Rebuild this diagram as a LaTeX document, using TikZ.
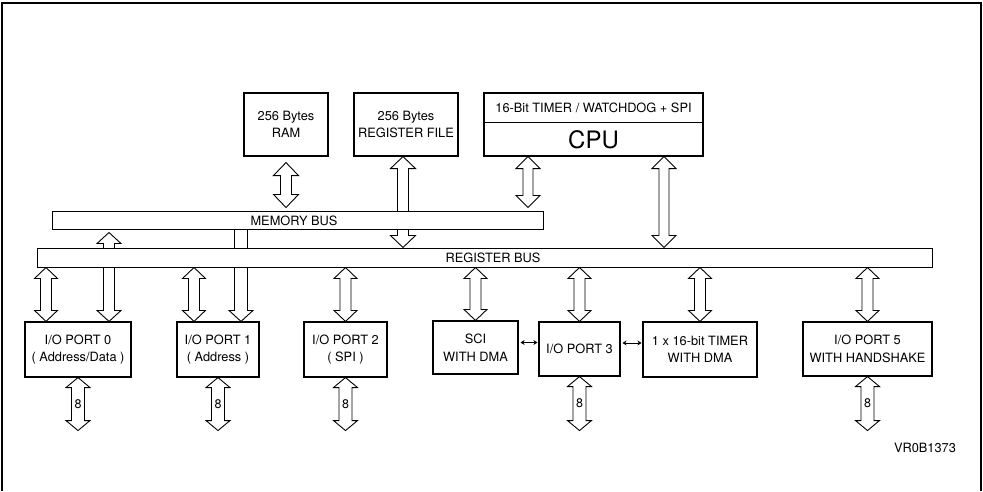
\documentclass[tikz,border=0pt]{standalone}
\usepackage{fontspec}
\setmainfont{TeX Gyre Heros}
\usetikzlibrary{arrows.meta,calc,backgrounds}
\newcommand\FatBoth[5]{% top, bottom, half shaft, half head, head length
  \draw[fat] let \p1=#1, \p2=#2 in
    (\x1,\y1) -- ({\x1+#4},{\y1-#5}) -- ({\x1+#3},{\y1-#5}) -- ({\x1+#3},{\y2+#5})
    -- ({\x1+#4},{\y2+#5}) -- (\x1,\y2) -- ({\x1-#4},{\y2+#5}) -- ({\x1-#3},{\y2+#5})
    -- ({\x1-#3},{\y1-#5}) -- ({\x1-#4},{\y1-#5}) -- cycle;}
\newcommand\FatDown[5]{% top, bottom, half shaft, half head, head length
  \draw[fat] let \p1=#1, \p2=#2 in
    ({\x1-#3},\y1) -- ({\x1+#3},\y1) -- ({\x1+#3},{\y2+#5}) -- ({\x1+#4},{\y2+#5})
    -- (\x1,\y2) -- ({\x1-#4},{\y2+#5}) -- ({\x1-#3},{\y2+#5}) -- cycle;}
\tikzset{
  box/.style={draw, line width=1.1pt, fill=white, inner sep=0pt, align=center,
    font=\fontsize{12.8}{17.5}\selectfont},
  bus/.style={draw, line width=1pt, fill=white, inner sep=0pt},
  txt/.style={inner sep=0pt, font=\fontsize{12.8}{15}\selectfont},
  eight/.style={inner sep=0.3pt, fill=white, font=\fontsize{12.5}{14}\selectfont},
  fat/.style={draw, line width=0.9pt, fill=white, line join=miter},
  smallarr/.style={line width=0.9pt, {Stealth[length=4pt,width=5pt]}-{Stealth[length=4pt,width=5pt]}}
}
\begin{document}
\begin{tikzpicture}[x=1pt,y=-1pt]
\useasboundingbox (0,0) rectangle (983,491);
% frame
\draw[line width=1.3pt] (2,491) -- (2,3) -- (981,3) -- (981,491);

% top blocks
\node[box, minimum width=84pt, minimum height=63pt] (ram) at (286,124.5) {256 Bytes\\RAM};
\node[box, minimum width=104pt, minimum height=63pt] (rf) at (406,124.5) {256 Bytes\\REGISTER FILE};
\node[box, minimum width=219pt, minimum height=63pt] (cpu) at (593.5,124.5) {};
\draw[line width=1pt] (cpu.west |- 0,122) -- (cpu.east |- 0,122);
\node[txt] (cputop) at (593.5,108) {16-Bit TIMER / WATCHDOG + SPI};
\node[inner sep=0pt, font=\fontsize{24}{28}\selectfont] (cpulbl) at (593.5,139.5) {CPU};

% buses
\node[bus, minimum width=491pt, minimum height=18pt] (mbus) at (297.5,220) {};
\node[txt] (mbuslbl) at (294,220.5) {MEMORY BUS};
\node[bus, minimum width=895pt, minimum height=19pt] (rbus) at (484.5,257.5) {};
\node[txt] (rbuslbl) at (493,258) {REGISTER BUS};

% bottom blocks
\node[box, minimum width=106pt, minimum height=55pt] (p0) at (78,349.5) {I/O PORT 0\\( Address/Data )};
\node[box, minimum width=82pt, minimum height=55pt] (p1) at (218,349.5) {I/O PORT 1\\( Address )};
\node[box, minimum width=83pt, minimum height=55pt] (p2) at (345.5,349.5) {I/O PORT 2\\( SPI )};
\node[box, minimum width=85pt, minimum height=53pt] (sci) at (475.5,347.5) {SCI\\WITH DMA};
\node[box, minimum width=81pt, minimum height=54pt] (p3) at (579.5,349) {I/O PORT 3};
\node[box, minimum width=114pt, minimum height=55pt] (tmr) at (700,349.5) {1 x 16-bit TIMER\\WITH DMA};
\node[box, minimum width=129pt, minimum height=54pt] (p5) at (867.5,349) {I/O PORT 5\\WITH HANDSHAKE};

% small arrows
\draw[smallarr] ([xshift=2pt,yshift=5pt]sci.east) -- ([xshift=-1pt,yshift=5pt]sci.east -| p3.west);
\draw[smallarr] ([xshift=2pt,yshift=6pt]p3.east) -- ([xshift=-1pt,yshift=6pt]p3.east -| tmr.west);

% free ends of external port arrows
\coordinate (p0o) at ($(p0.south)+(0,53)$);
\coordinate (p1o) at ($(p1.south)+(0,53)$);
\coordinate (p2o) at ($(p2.south)+(0,53)$);
\coordinate (p3o) at ($(p3.south)+(0,54)$);
\coordinate (p5o) at ($(p5.south)+(0,54)$);

\node[txt] (vr) at (925,448) {VR0B1373};

\begin{pgfonlayer}{background}
% memory side
\FatBoth{($(ram.south)+(0,6)$)}{($(ram.south |- mbus.north)+(0,-3)$)}{5.5pt}{12.5pt}{13pt}
\FatBoth{(403,0 |- rf.south)}{(403,0 |- rbus.north)}{5.5pt}{12.5pt}{12pt}
\FatBoth{(528,0 |- cpu.south)}{($(528,0 |- mbus.north)+(0,-3)$)}{5pt}{12pt}{12pt}
\FatBoth{(664,0 |- cpu.south)}{(664,0 |- rbus.north)}{5pt}{12pt}{12pt}
% register bus to ports
\FatBoth{(46,0 |- rbus.south)}{(46,0 |- p0.north)}{5.5pt}{11.5pt}{11pt}
\FatBoth{($(109,0 |- mbus.south)+(0,3)$)}{(109,0 |- p0.north)}{5.5pt}{12pt}{11pt}
\FatBoth{(194,0 |- rbus.south)}{(194,0 |- p1.north)}{5.5pt}{11.5pt}{11pt}
\FatDown{(241,0 |- mbus.south)}{(241,0 |- p1.north)}{6.5pt}{12pt}{11pt}
\FatBoth{(p2.north |- rbus.south)}{(p2.north)}{5.5pt}{11.5pt}{11pt}
\FatBoth{(sci.north |- rbus.south)}{(sci.north)}{5.5pt}{11.5pt}{11pt}
\FatBoth{(p3.north |- rbus.south)}{(p3.north)}{5.5pt}{11.5pt}{11pt}
\FatBoth{(tmr.north |- rbus.south)}{(tmr.north)}{5.5pt}{11.5pt}{11pt}
\FatBoth{(p5.north |- rbus.south)}{(p5.north)}{5.5pt}{11.5pt}{11pt}
% external 8-bit ports
\FatBoth{(p0.south)}{(p0o)}{6.5pt}{12pt}{10pt}
\FatBoth{(p1.south)}{(p1o)}{6.5pt}{12pt}{10pt}
\FatBoth{(p2.south)}{(p2o)}{6.5pt}{12pt}{10pt}
\FatBoth{(p3.south)}{(p3o)}{6.5pt}{12pt}{10pt}
\FatBoth{(p5.south)}{(p5o)}{6.5pt}{12pt}{10pt}
\end{pgfonlayer}

\node[eight] (n0) at ($(p0.south)!0.5!(p0o)$) {8};
\node[eight] (n1) at ($(p1.south)!0.5!(p1o)$) {8};
\node[eight] (n2) at ($(p2.south)!0.5!(p2o)$) {8};
\node[eight] (n3) at ($(p3.south)!0.5!(p3o)$) {8};
\node[eight] (n5) at ($(p5.south)!0.5!(p5o)$) {8};
\end{tikzpicture}
\end{document}
